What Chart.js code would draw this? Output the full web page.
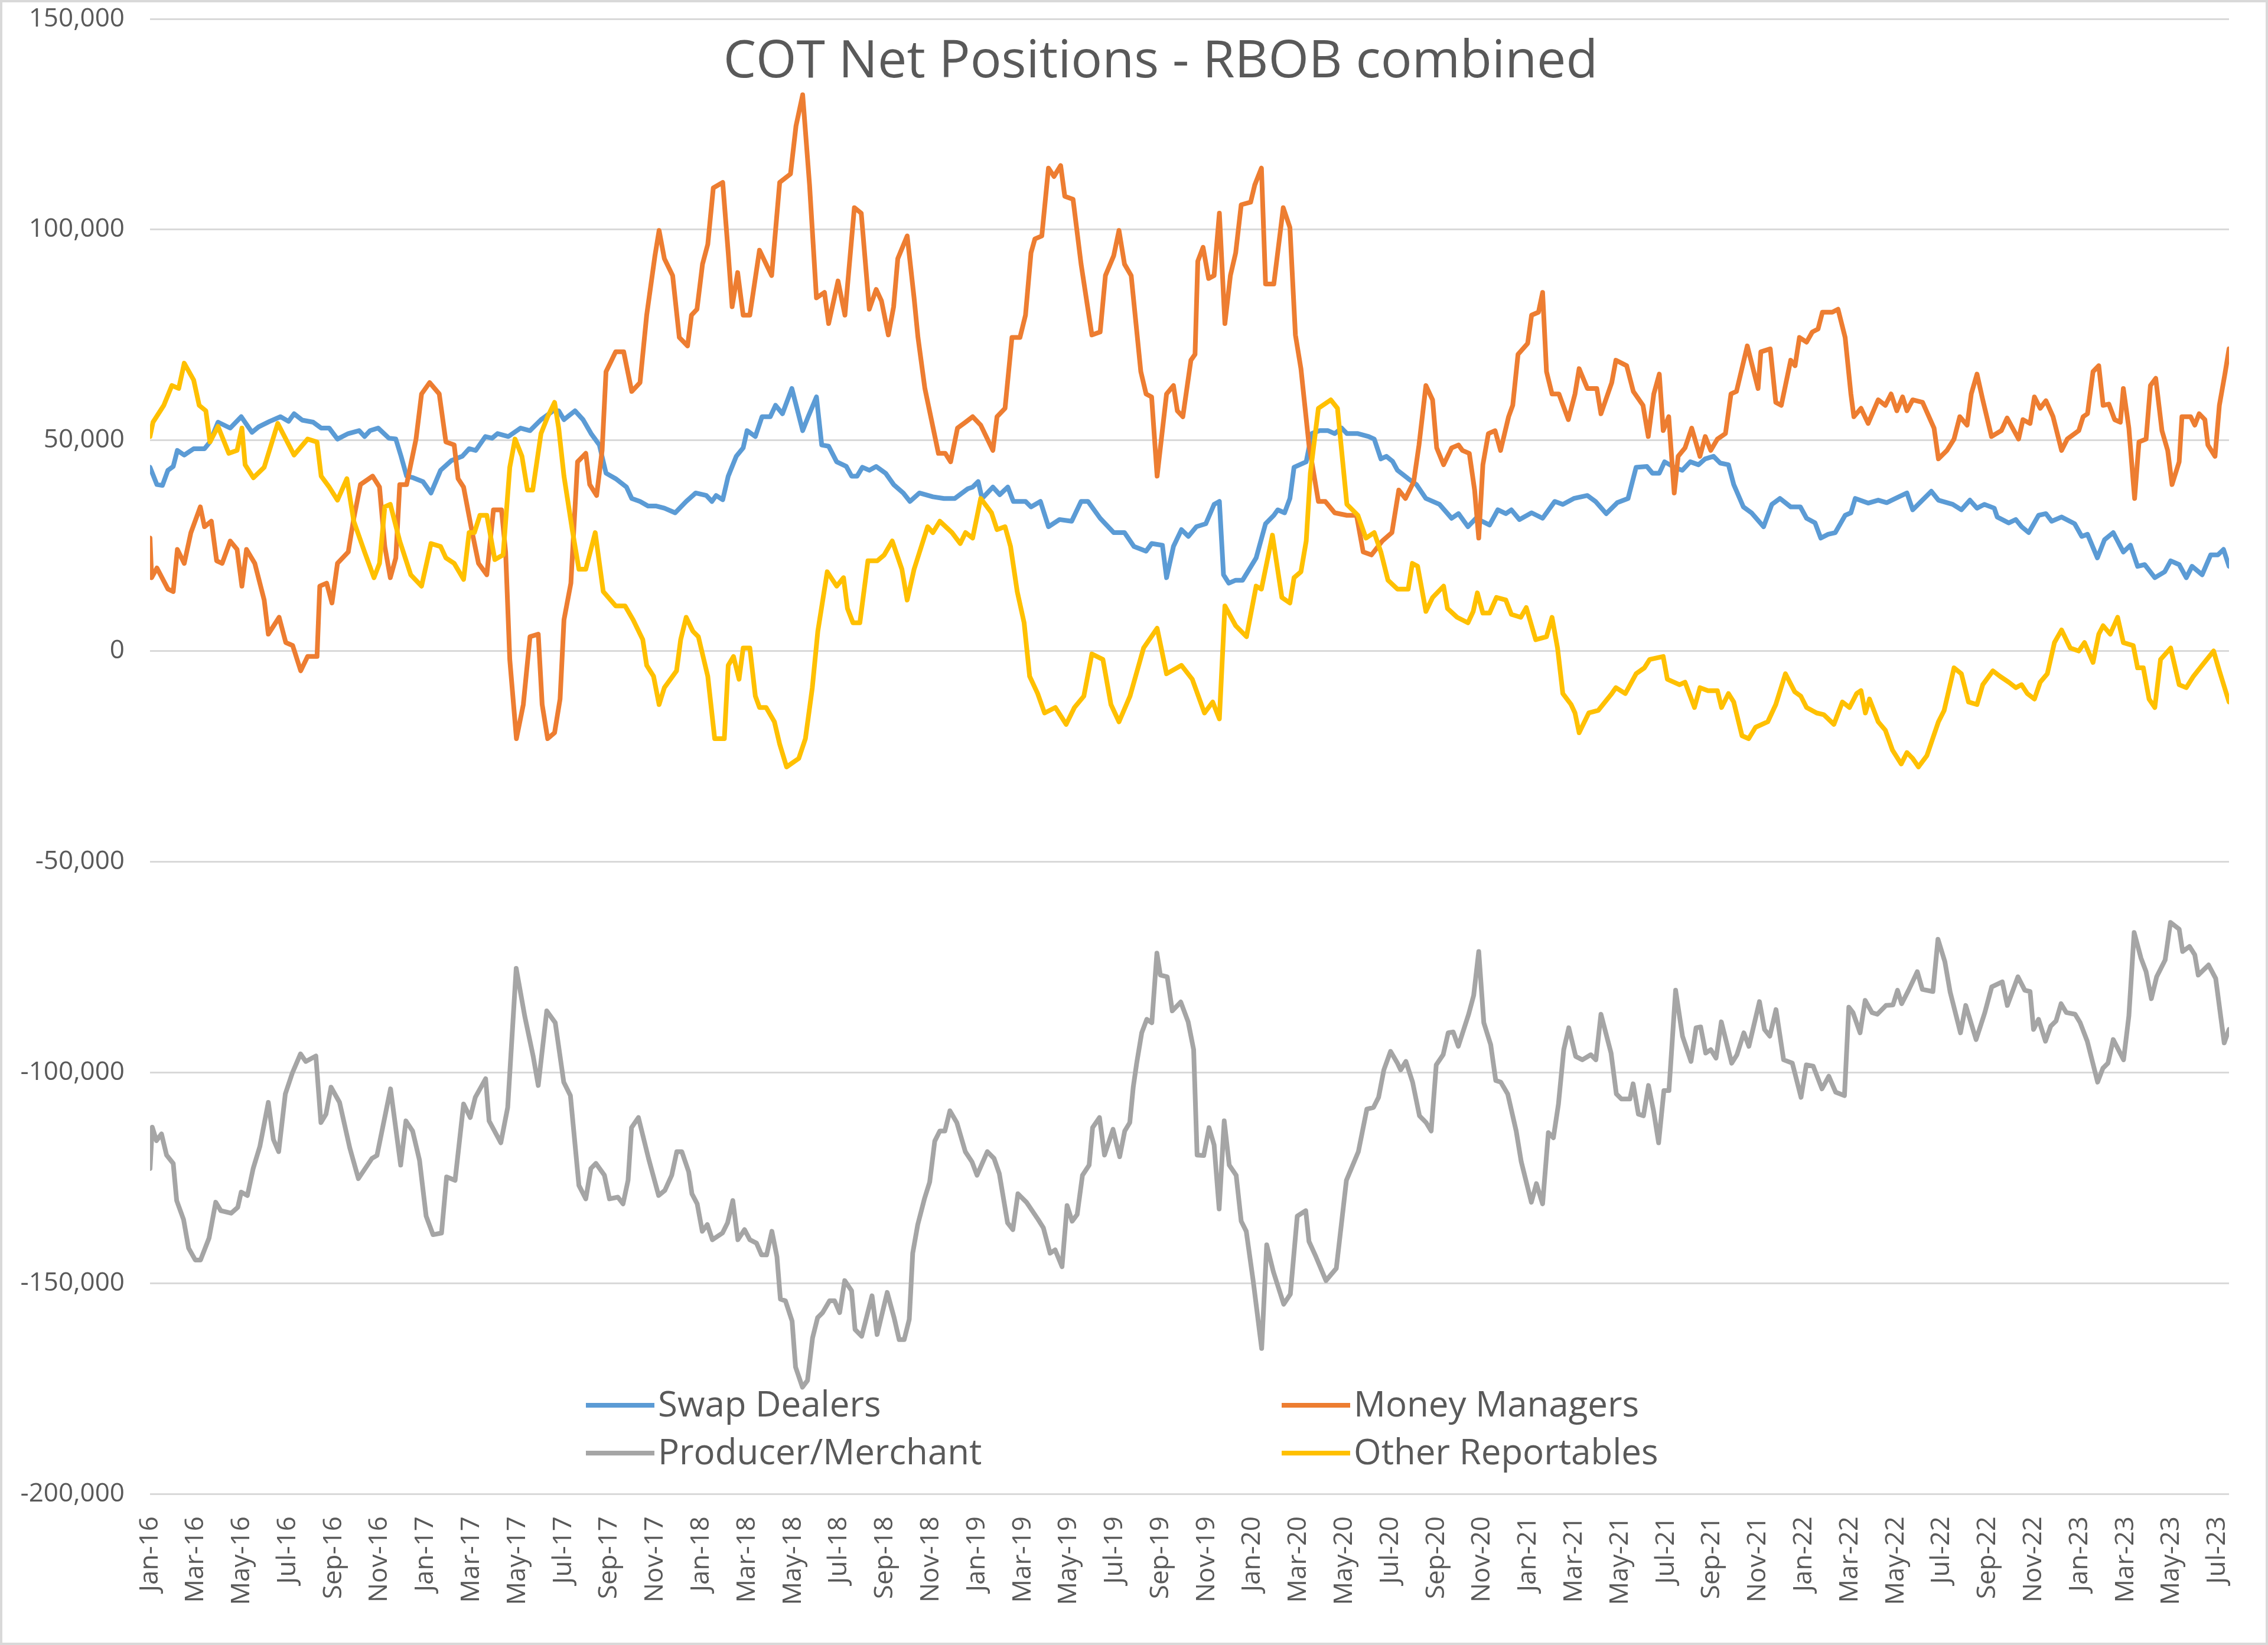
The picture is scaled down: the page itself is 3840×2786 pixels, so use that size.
<!DOCTYPE html>
<html><head><meta charset="utf-8">
<script src="https://cdn.jsdelivr.net/npm/chart.js@4.4.1/dist/chart.umd.min.js"></script>
<style>html,body{margin:0;padding:0;background:#fff;}#wrap{width:3840px;height:2786px;position:relative;}</style>
</head><body><div id="wrap"><canvas id="c" width="3840" height="2786"></canvas></div>
<script>
// x values: months elapsed since the first report (early Jan 2016)
const tickLabels = ['Jan-16','Mar-16','May-16','Jul-16','Sep-16','Nov-16','Jan-17','Mar-17','May-17','Jul-17','Sep-17','Nov-17','Jan-18','Mar-18','May-18','Jul-18','Sep-18','Nov-18','Jan-19','Mar-19','May-19','Jul-19','Sep-19','Nov-19','Jan-20','Mar-20','May-20','Jul-20','Sep-20','Nov-20','Jan-21','Mar-21','May-21','Jul-21','Sep-21','Nov-21','Jan-22','Mar-22','May-22','Jul-22','Sep-22','Nov-22','Jan-23','Mar-23','May-23','Jul-23'];
const seriesNames = ['Swap Dealers','Money Managers','Producer/Merchant','Other Reportables'];
const chartTitle = 'COT Net Positions - RBOB combined';

const swapDealers = [[0,43600],[0.30,39500],[0.54,39300],[0.78,42900],[1.01,43800],[1.19,47600],[1.49,46500],[1.90,48000],[2.37,48000],[2.61,49600],[2.96,54300],[3.49,52900],[3.97,55600],[4.44,51900],[4.73,53200],[5.21,54500],[5.68,55600],[6.03,54500],[6.27,56300],[6.62,54800],[7.10,54300],[7.45,52900],[7.80,52900],[8.16,50300],[8.63,51600],[9.10,52300],[9.34,50900],[9.58,52300],[9.93,52900],[10.40,50500],[10.70,50300],[10.93,46200],[11.17,41500],[11.46,41100],[11.88,40200],[12.23,37500],[12.65,42900],[13.12,45200],[13.59,46200],[13.89,48000],[14.18,47600],[14.60,50900],[14.89,50500],[15.13,51600],[15.60,50900],[16.13,52900],[16.54,52300],[17.02,54900],[17.55,57000],[17.79,57000],[18.02,54900],[18.50,57000],[18.85,54900],[19.20,51600],[19.56,48900],[19.85,42200],[20.27,40900],[20.74,38900],[20.97,36200],[21.33,35500],[21.68,34400],[22.04,34400],[22.39,33900],[22.86,32800],[23.34,35500],[23.75,37500],[24.22,36900],[24.46,35500],[24.64,36900],[24.93,35900],[25.17,41500],[25.52,46200],[25.82,48200],[25.99,52300],[26.35,50900],[26.64,55600],[27.00,55600],[27.23,58300],[27.53,56300],[27.94,62300],[28.41,52300],[28.65,55600],[29.01,60300],[29.24,48900],[29.54,48600],[29.89,44900],[30.31,43800],[30.54,41500],[30.78,41500],[31.01,43600],[31.31,42900],[31.61,43800],[32.02,42200],[32.37,39500],[32.79,37500],[33.08,35500],[33.49,37500],[34.08,36600],[34.56,36200],[35.03,36200],[35.60,38500],[35.81,38900],[36.05,40200],[36.22,36200],[36.69,38900],[36.99,37100],[37.34,38900],[37.58,35500],[38.11,35500],[38.35,34200],[38.76,35500],[39.11,29500],[39.59,31200],[40.12,30800],[40.53,35500],[40.83,35500],[41.36,31500],[41.95,28100],[42.42,28100],[42.83,24800],[43.36,23700],[43.60,25500],[44.07,25100],[44.25,17400],[44.55,24800],[44.90,28800],[45.20,27200],[45.55,29500],[45.96,30200],[46.32,34800],[46.55,35500],[46.73,18100],[46.96,16100],[47.26,16800],[47.56,16800],[47.85,19400],[48.15,22100],[48.56,30200],[48.92,32200],[49.09,33500],[49.39,32800],[49.62,36200],[49.80,43600],[50.33,44900],[50.57,51600],[50.92,52300],[51.28,52300],[51.57,51600],[51.87,52900],[52.10,51600],[52.58,51600],[53.05,50900],[53.29,50300],[53.58,45600],[53.82,46200],[54.09,45000],[54.30,42900],[54.77,40900],[55.13,39500],[55.54,36200],[56.13,34800],[56.66,31500],[56.96,32600],[57.37,29500],[57.72,31500],[58.31,29900],[58.67,33500],[59.02,32600],[59.26,33500],[59.61,31200],[60.14,32800],[60.62,31500],[61.15,35500],[61.50,34800],[61.98,36200],[62.57,36900],[62.92,35500],[63.39,32600],[63.87,35200],[64.34,36200],[64.69,43600],[65.16,43800],[65.40,42200],[65.70,42200],[65.93,44900],[66.35,43600],[66.70,42900],[67.05,44900],[67.41,44200],[67.70,45600],[68.06,46200],[68.35,44600],[68.71,44200],[68.94,39500],[69.36,34200],[69.71,32800],[70.24,29500],[70.60,34800],[70.95,36200],[71.42,34200],[71.84,34200],[72.11,31500],[72.48,30400],[72.73,26800],[73.05,27700],[73.36,28100],[73.79,32200],[74.04,32800],[74.23,36200],[74.79,35100],[75.23,35800],[75.60,35200],[75.98,36200],[76.48,37500],[76.73,33500],[77.10,35500],[77.54,37900],[77.85,35800],[78.47,34800],[78.85,33500],[79.22,35800],[79.53,33900],[79.85,34800],[80.28,33900],[80.41,31800],[80.91,30400],[81.22,31200],[81.47,29500],[81.78,28100],[82.21,32200],[82.53,32600],[82.78,30800],[83.21,31800],[83.78,30200],[84.09,27200],[84.34,27700],[84.77,22100],[85.08,26400],[85.46,28100],[85.90,23500],[86.21,25100],[86.52,20100],[86.83,20500],[87.27,17400],[87.70,18800],[87.96,21400],[88.33,20500],[88.64,17400],[88.89,20100],[89.33,18100],[89.70,22800],[90.01,22800],[90.26,24100],[90.50,20100]];

const moneyManagers = [[0,26800],[0.07,17400],[0.30,19700],[0.78,14700],[1.01,14100],[1.19,24100],[1.49,20800],[1.78,28100],[2.19,34200],[2.37,29500],[2.67,30800],[2.90,21400],[3.14,20800],[3.49,26100],[3.79,24100],[4.00,15400],[4.20,24100],[4.56,20800],[4.97,12100],[5.15,4000],[5.62,8000],[5.91,2000],[6.21,1300],[6.56,-4700],[6.86,-1300],[7.27,-1300],[7.39,15400],[7.69,16100],[7.92,11400],[8.16,20800],[8.63,23500],[8.87,31500],[9.16,39500],[9.69,41500],[9.99,38900],[10.22,24800],[10.46,17400],[10.70,22100],[10.87,39500],[11.17,39500],[11.58,50300],[11.82,61000],[12.17,63700],[12.59,61000],[12.88,49600],[13.24,48900],[13.41,40900],[13.65,38900],[14.00,28800],[14.30,20800],[14.66,18100],[14.95,33500],[15.30,33500],[15.48,23500],[15.66,-2000],[15.95,-20800],[16.25,-12700],[16.54,3400],[16.90,4000],[17.07,-12700],[17.31,-20800],[17.61,-19400],[17.85,-11400],[18.02,7400],[18.32,16100],[18.61,44900],[18.97,46900],[19.14,39500],[19.44,36900],[19.68,47600],[19.85,66300],[20.27,71000],[20.62,71000],[20.97,61600],[21.33,63700],[21.62,79700],[21.98,93800],[22.16,99800],[22.39,93100],[22.75,89100],[23.04,74400],[23.40,72400],[23.57,79700],[23.81,81100],[24.05,91800],[24.28,96500],[24.52,109900],[24.93,111200],[25.17,94500],[25.34,81700],[25.58,89800],[25.82,79700],[26.11,79700],[26.53,95100],[27.06,89100],[27.41,111200],[27.88,113200],[28.12,124600],[28.41,132000],[28.71,110600],[29.01,83800],[29.36,85100],[29.54,77700],[29.95,87800],[30.25,79700],[30.66,105200],[30.96,103900],[31.31,81100],[31.61,85800],[31.84,83100],[32.14,75000],[32.37,81700],[32.55,93100],[32.96,98500],[33.26,83800],[33.43,74400],[33.73,62300],[34.32,46900],[34.62,46900],[34.85,44900],[35.15,52900],[35.50,54300],[35.81,55600],[36.16,53600],[36.69,47600],[36.87,55600],[37.22,57600],[37.52,74400],[37.87,74400],[38.11,79700],[38.35,94500],[38.52,97800],[38.82,98500],[39.11,114600],[39.35,112600],[39.64,115200],[39.82,107900],[40.18,107200],[40.53,91800],[41.00,75000],[41.36,75700],[41.59,89100],[41.95,93800],[42.18,99800],[42.42,91800],[42.71,89100],[43.13,66300],[43.36,61000],[43.60,60300],[43.84,41500],[44.25,61000],[44.55,63000],[44.72,57000],[44.96,55600],[45.31,69000],[45.49,70400],[45.61,92500],[45.84,95800],[46.08,88400],[46.32,89100],[46.55,103900],[46.79,77700],[47.03,89100],[47.26,94500],[47.50,105900],[47.91,106500],[48.09,110600],[48.38,114600],[48.56,87100],[48.92,87100],[49.15,97200],[49.33,105200],[49.62,100500],[49.86,75000],[50.10,67000],[50.45,48900],[50.86,35500],[51.16,35500],[51.57,32800],[52.10,32200],[52.52,32200],[52.81,23500],[53.17,22800],[53.64,26100],[54.06,28100],[54.36,38200],[54.65,36200],[55.01,40200],[55.24,48900],[55.54,63000],[55.83,59600],[56.01,48200],[56.31,44200],[56.66,48200],[56.96,48900],[57.13,47600],[57.43,46900],[57.66,38200],[57.84,26800],[58.02,44200],[58.26,51600],[58.55,52300],[58.79,47600],[59.14,55600],[59.32,58300],[59.55,70400],[59.97,73000],[60.14,79700],[60.44,80400],[60.62,85100],[60.79,66300],[61.03,61000],[61.33,61000],[61.74,54900],[62.03,61000],[62.21,67000],[62.57,62300],[62.98,62300],[63.16,56300],[63.63,63700],[63.81,69000],[64.28,67700],[64.57,61600],[64.99,58300],[65.22,50900],[65.46,61000],[65.70,65700],[65.87,52300],[66.11,55600],[66.35,37500],[66.52,46200],[66.82,48200],[67.11,52900],[67.47,46200],[67.70,50900],[67.94,47600],[68.23,50300],[68.58,51600],[68.82,61000],[69.06,61600],[69.53,72400],[70.00,62300],[70.12,71000],[70.53,71700],[70.77,59000],[71.01,58300],[71.42,69000],[71.61,67700],[71.80,74400],[72.11,73300],[72.36,75700],[72.61,76400],[72.80,80400],[73.23,80400],[73.48,81100],[73.79,74400],[74.04,61000],[74.17,55600],[74.48,57600],[74.79,54000],[75.23,59600],[75.54,58300],[75.79,61000],[76.04,57000],[76.29,60300],[76.48,57000],[76.73,59600],[77.16,59000],[77.66,52900],[77.85,45600],[78.22,47600],[78.53,50300],[78.78,55600],[79.10,53600],[79.28,61000],[79.53,65700],[79.78,59600],[80.16,50900],[80.59,52300],[80.84,55300],[81.34,50300],[81.53,54900],[81.84,54000],[82.03,60300],[82.28,57600],[82.53,59400],[82.84,55600],[83.21,47600],[83.46,50300],[83.96,52300],[84.15,55600],[84.34,56300],[84.58,66300],[84.83,67700],[85.02,58300],[85.27,58600],[85.52,54900],[85.77,54300],[85.90,62300],[86.14,52900],[86.39,36200],[86.58,49600],[86.89,50300],[87.08,63000],[87.31,64700],[87.58,52300],[87.83,47600],[88.02,39500],[88.33,44900],[88.45,55600],[88.83,55600],[89.01,53600],[89.20,56300],[89.45,54900],[89.58,48900],[89.89,46200],[90.08,58300],[90.32,65700],[90.50,71700]];

const producerMerchant = [[0,-122800],[0.10,-113000],[0.28,-116200],[0.50,-114600],[0.72,-119600],[1.01,-121600],[1.16,-130400],[1.46,-134900],[1.68,-141700],[1.97,-144500],[2.20,-144500],[2.57,-139300],[2.86,-130800],[3.08,-132800],[3.53,-133400],[3.82,-132000],[3.97,-128400],[4.24,-129200],[4.49,-122800],[4.78,-117600],[5.15,-107100],[5.37,-115900],[5.60,-118800],[5.89,-105100],[6.19,-100200],[6.55,-95600],[6.78,-97400],[7.22,-96100],[7.44,-111900],[7.66,-109900],[7.88,-103500],[8.25,-107100],[8.70,-118000],[9.07,-125200],[9.66,-120400],[9.88,-119700],[10.47,-103900],[10.91,-122000],[11.14,-111500],[11.43,-113900],[11.73,-120800],[12.02,-134100],[12.32,-138500],[12.69,-138100],[12.91,-124800],[13.28,-125600],[13.65,-107500],[13.94,-110700],[14.16,-105900],[14.61,-101500],[14.76,-111500],[15.27,-116700],[15.57,-108300],[15.94,-75300],[16.31,-86600],[16.68,-96200],[16.90,-103100],[17.27,-85400],[17.64,-88200],[18.01,-102300],[18.30,-105500],[18.67,-126800],[18.97,-130000],[19.19,-122800],[19.41,-121600],[19.78,-124400],[20.00,-130000],[20.37,-129600],[20.59,-131200],[20.81,-125600],[20.96,-113100],[21.26,-110700],[21.70,-120400],[22.14,-129200],[22.41,-128000],[22.71,-124400],[22.93,-118800],[23.15,-118800],[23.45,-123600],[23.59,-128800],[23.82,-131200],[24.04,-137700],[24.26,-136100],[24.48,-139700],[24.92,-138100],[25.14,-135700],[25.37,-130400],[25.59,-139700],[25.88,-137300],[26.11,-139700],[26.40,-140500],[26.62,-143300],[26.84,-143300],[27.07,-137700],[27.29,-143700],[27.44,-153800],[27.66,-154200],[27.95,-159000],[28.10,-169900],[28.40,-174700],[28.62,-173100],[28.84,-163000],[29.06,-158200],[29.28,-157000],[29.58,-154200],[29.80,-154200],[30.02,-157000],[30.24,-149400],[30.54,-151800],[30.69,-161000],[30.98,-162600],[31.43,-153000],[31.65,-162200],[32.09,-152200],[32.39,-158200],[32.61,-163400],[32.83,-163400],[33.05,-158600],[33.20,-142900],[33.42,-136100],[33.71,-130000],[33.94,-126000],[34.16,-116300],[34.38,-113900],[34.60,-113900],[34.82,-109100],[35.12,-111900],[35.49,-118800],[35.78,-121200],[36.00,-124400],[36.45,-118800],[36.74,-120400],[36.97,-124000],[37.33,-135700],[37.56,-137300],[37.78,-128800],[38.15,-130800],[38.66,-134900],[38.89,-136900],[39.18,-142900],[39.40,-142100],[39.70,-146100],[39.92,-131600],[40.14,-135300],[40.36,-133700],[40.59,-124400],[40.88,-122000],[41.03,-113100],[41.33,-110700],[41.55,-119600],[41.92,-113500],[42.21,-120000],[42.43,-113900],[42.65,-111900],[42.80,-103500],[42.95,-97800],[43.17,-90600],[43.39,-87400],[43.61,-88200],[43.83,-71700],[43.98,-76900],[44.28,-77300],[44.50,-85400],[44.87,-83300],[45.19,-88000],[45.43,-94600],[45.58,-119600],[45.87,-119700],[46.10,-113100],[46.32,-117200],[46.54,-132400],[46.76,-111500],[46.98,-122000],[47.28,-124400],[47.50,-135300],[47.72,-137700],[48.02,-149400],[48.39,-165500],[48.61,-140900],[48.90,-147300],[49.35,-155000],[49.64,-152600],[49.94,-134100],[50.31,-132800],[50.45,-140100],[50.75,-143700],[51.19,-149400],[51.64,-146500],[52.08,-125600],[52.60,-118800],[52.97,-108700],[53.26,-108300],[53.48,-105900],[53.71,-99400],[54.00,-95000],[54.30,-97800],[54.44,-99400],[54.67,-97400],[54.96,-102300],[55.26,-110300],[55.55,-111900],[55.77,-113900],[55.99,-98200],[56.29,-95800],[56.51,-90600],[56.73,-90400],[56.95,-93800],[57.40,-86200],[57.62,-81700],[57.84,-71300],[58.06,-88200],[58.36,-93400],[58.58,-101900],[58.80,-102300],[59.10,-105100],[59.47,-113900],[59.69,-121200],[60.13,-130800],[60.35,-126400],[60.62,-131200],[60.87,-114300],[61.09,-115500],[61.31,-107500],[61.54,-94600],[61.76,-89400],[62.06,-96200],[62.35,-97000],[62.72,-95800],[62.94,-97000],[63.16,-86200],[63.60,-95400],[63.83,-105100],[64.05,-106300],[64.42,-106300],[64.56,-102700],[64.79,-109900],[65.01,-110300],[65.23,-103100],[65.45,-109100],[65.67,-116700],[65.90,-104300],[66.12,-104300],[66.41,-80500],[66.71,-91400],[67.08,-97400],[67.30,-89400],[67.50,-89200],[67.72,-95400],[67.94,-94600],[68.17,-96600],[68.40,-88000],[68.85,-97800],[69.08,-95800],[69.38,-90600],[69.60,-93800],[70.06,-83200],[70.28,-89800],[70.51,-91400],[70.78,-85100],[71.11,-97000],[71.49,-97800],[71.87,-105900],[72.10,-98200],[72.40,-98500],[72.78,-103900],[73.08,-100900],[73.38,-104700],[73.76,-105500],[73.95,-84500],[74.13,-85800],[74.44,-90600],[74.66,-82900],[74.96,-85800],[75.19,-86200],[75.57,-84100],[75.87,-84000],[76.07,-80500],[76.25,-83700],[76.55,-80500],[76.93,-76100],[77.15,-80300],[77.61,-80800],[77.83,-68400],[78.13,-73700],[78.36,-80900],[78.81,-90600],[79.04,-84100],[79.49,-92200],[79.87,-85800],[80.17,-79700],[80.63,-78500],[80.85,-84100],[81.31,-77300],[81.61,-80500],[81.84,-80800],[81.99,-89800],[82.21,-87400],[82.51,-92600],[82.74,-89000],[82.97,-87800],[83.19,-83700],[83.42,-85800],[83.80,-86200],[84.02,-88200],[84.33,-92600],[84.78,-102300],[85.01,-99000],[85.23,-97800],[85.46,-92200],[85.91,-97000],[86.14,-86600],[86.37,-66800],[86.67,-72900],[86.89,-76100],[87.12,-82500],[87.35,-77300],[87.72,-73300],[87.95,-64400],[88.33,-66000],[88.48,-71300],[88.78,-70100],[89.01,-72100],[89.16,-76900],[89.61,-74500],[89.92,-77700],[90.29,-93000],[90.50,-89800]];

const otherReportables = [[0,50900],[0.13,54300],[0.60,58300],[0.95,63000],[1.25,62300],[1.49,68300],[1.90,64300],[2.14,58300],[2.43,57000],[2.61,49600],[2.96,53300],[3.43,46900],[3.79,47600],[4.00,52900],[4.14,44200],[4.50,41100],[4.97,43600],[5.56,54000],[6.27,46500],[6.86,50300],[7.27,49600],[7.45,41500],[7.80,38900],[8.16,35800],[8.57,40900],[8.87,30800],[9.34,23500],[9.75,17400],[9.99,20800],[10.22,34200],[10.46,34800],[10.87,26100],[11.35,18100],[11.82,15400],[12.23,25500],[12.65,24800],[12.88,22100],[13.24,20800],[13.65,17000],[13.89,28100],[14.12,28100],[14.36,32200],[14.66,32200],[15.01,21700],[15.37,22800],[15.66,43600],[15.89,50300],[16.19,46200],[16.43,38200],[16.66,38200],[17.02,51600],[17.31,55600],[17.61,59000],[17.79,52900],[18.02,41500],[18.38,28800],[18.67,19400],[18.97,19400],[19.38,28100],[19.73,14100],[20.27,10700],[20.68,10700],[21.03,7400],[21.45,2700],[21.62,-3400],[21.92,-6000],[22.16,-12700],[22.39,-8700],[22.92,-4700],[23.10,2700],[23.34,8000],[23.63,4700],[23.87,3400],[24.28,-6000],[24.58,-20800],[25.00,-20800],[25.17,-3400],[25.40,-1300],[25.64,-6700],[25.82,700],[26.11,700],[26.35,-10700],[26.53,-13400],[26.82,-13400],[27.18,-16800],[27.41,-22100],[27.71,-27500],[28.24,-25500],[28.53,-20800],[28.83,-8700],[29.07,4700],[29.48,18800],[29.89,15400],[30.19,17400],[30.36,10100],[30.60,6700],[30.90,6700],[31.25,21400],[31.66,21400],[31.96,22800],[32.31,26100],[32.73,19400],[32.96,12100],[33.26,19400],[33.85,29500],[34.08,28100],[34.38,30800],[34.91,28100],[35.27,25500],[35.50,28100],[35.81,26800],[36.16,36200],[36.63,32800],[36.87,28800],[37.22,29500],[37.46,24800],[37.75,14100],[38.05,6700],[38.29,-6000],[38.64,-10100],[38.94,-14700],[39.41,-13400],[39.88,-17400],[40.24,-13400],[40.65,-10700],[41.00,-700],[41.48,-2000],[41.83,-12700],[42.18,-16800],[42.66,-10700],[43.25,700],[43.84,5400],[44.25,-5400],[44.90,-3400],[45.37,-6700],[45.90,-14700],[46.26,-12100],[46.55,-16100],[46.79,10700],[47.26,6000],[47.73,3400],[48.15,15400],[48.38,14700],[48.86,27500],[49.27,12700],[49.62,11400],[49.80,17400],[50.10,18800],[50.33,26100],[50.51,42200],[50.86,57600],[51.40,59600],[51.69,57600],[52.10,34800],[52.58,32200],[52.93,26800],[53.29,28100],[53.58,23500],[53.89,16800],[54.30,14700],[54.77,14700],[54.95,20800],[55.18,20100],[55.54,9400],[55.83,12700],[56.31,15400],[56.48,10100],[56.90,8000],[57.37,6700],[57.60,9400],[57.78,13800],[58.02,9000],[58.31,9000],[58.61,12700],[59.02,12100],[59.26,8700],[59.67,8000],[59.91,10300],[60.32,2700],[60.79,3400],[61.03,8000],[61.27,700],[61.50,-10100],[61.86,-12700],[62.03,-14700],[62.21,-19400],[62.63,-14700],[63.04,-14100],[63.63,-10100],[63.81,-8700],[64.22,-10100],[64.69,-5400],[65.05,-4000],[65.28,-2000],[65.87,-1300],[66.05,-6700],[66.58,-8000],[66.82,-7400],[67.23,-13400],[67.47,-8700],[67.82,-9400],[68.23,-9400],[68.41,-13400],[68.71,-10100],[68.94,-12100],[69.30,-20100],[69.59,-20800],[69.89,-18100],[70.42,-16800],[70.77,-12700],[71.19,-5400],[71.60,-9700],[71.86,-10700],[72.11,-13400],[72.55,-14700],[72.86,-15100],[73.30,-17400],[73.67,-12100],[73.98,-13400],[74.29,-10100],[74.48,-9400],[74.67,-14700],[74.85,-11400],[75.23,-16800],[75.54,-18800],[75.85,-23500],[76.23,-26800],[76.48,-24100],[76.73,-25500],[76.98,-27500],[77.35,-24800],[77.85,-16800],[78.10,-14100],[78.53,-4000],[78.85,-5400],[79.16,-12100],[79.53,-12700],[79.78,-8000],[80.22,-4700],[80.53,-6000],[80.91,-7400],[81.22,-8700],[81.47,-8000],[81.72,-10100],[82.03,-11400],[82.28,-7400],[82.59,-5400],[82.90,2000],[83.21,5000],[83.59,700],[83.96,0],[84.21,2000],[84.58,-2700],[84.83,4000],[85.02,6000],[85.33,4000],[85.65,8000],[85.90,2000],[86.33,1300],[86.52,-4000],[86.77,-4000],[87.02,-11400],[87.27,-13400],[87.52,-2000],[87.96,700],[88.33,-8000],[88.64,-8700],[88.95,-6000],[89.33,-3400],[89.83,0],[90.08,-4700],[90.50,-12100]];

const FONT = "'Open Sans', 'Noto Sans', sans-serif";
const TEXT = '#595959';
const colors = ['#5B9BD5', '#ED7D31', '#A5A5A5', '#FFC000'];
const toPts = arr => arr.map(([x, y]) => ({ x, y }));

const overlay = {
  id: 'overlay',
  beforeDraw(chart) {
    const c = chart.ctx;
    c.save(); c.fillStyle = '#fff'; c.fillRect(0, 0, chart.width, chart.height); c.restore();
  },
  afterDraw(chart) {
    const c = chart.ctx;
    c.save();
    c.strokeStyle = '#d9d9d9'; c.lineWidth = 4;
    c.strokeRect(2, 2, chart.width - 4, chart.height - 4);
    c.fillStyle = TEXT;
    c.font = '88px ' + FONT;
    c.textAlign = 'center'; c.textBaseline = 'alphabetic';
    c.fillText(chartTitle, 1965, 131);
    const cols = [992, 2170], rows = [2380, 2461];
    seriesNames.forEach((name, i) => {
      const x = cols[i % 2], y = rows[Math.floor(i / 2)];
      c.strokeStyle = colors[i]; c.lineWidth = 8; c.lineCap = 'butt';
      c.beginPath(); c.moveTo(x, y); c.lineTo(x + 116, y); c.stroke();
      c.fillStyle = TEXT; c.font = '60px ' + FONT;
      c.textAlign = 'left'; c.textBaseline = 'middle';
      c.fillText(name, x + 122, y + 2);
    });
    c.restore();
  }
};

function draw() {
  const series = [swapDealers, moneyManagers, producerMerchant, otherReportables];
  const drawOrder = [3, 2, 1, 0];
  new Chart(document.getElementById('c'), {
    type: 'line',
    data: {
      datasets: series.map((s, i) => ({
        label: seriesNames[i],
        data: toPts(s),
        borderColor: colors[i],
        backgroundColor: colors[i],
        borderWidth: 8,
        pointRadius: 0,
        tension: 0,
        fill: false,
        borderJoinStyle: 'round',
        borderCapStyle: 'round',
        order: drawOrder[i]
      }))
    },
    options: {
      responsive: false,
      animation: false,
      devicePixelRatio: 1,
      layout: { padding: { left: 0, right: 66, top: 32, bottom: 0 } },
      plugins: { legend: { display: false }, title: { display: false }, tooltip: { enabled: false } },
      scales: {
        x: {
          type: 'linear', min: 0, max: 90.5,
          grid: { display: false }, border: { display: false },
          afterBuildTicks: sc => { sc.ticks = tickLabels.map((_, i) => ({ value: i * 2 })); },
          afterFit: sc => { sc.height = 256; sc.paddingLeft = 0; sc.paddingRight = 0; },
          ticks: {
            autoSkip: false, minRotation: 90, maxRotation: 90, padding: 30,
            color: TEXT, font: { family: FONT, size: 44 },
            callback: v => tickLabels[Math.round(v / 2)]
          }
        },
        y: {
          min: -200000, max: 150000,
          grid: { color: '#d9d9d9', lineWidth: 3, drawTicks: false },
          border: { display: false },
          afterFit: sc => { sc.width = 254; sc.paddingTop = 0; sc.paddingBottom = 0; },
          ticks: {
            stepSize: 50000, padding: 43, color: TEXT,
            font: { family: FONT, size: 44 },
            callback: v => v.toLocaleString('en-US')
          }
        }
      }
    },
    plugins: [overlay]
  });
}
if (document.fonts && document.fonts.load) {
  Promise.all([document.fonts.load("44px 'Open Sans'"), document.fonts.load("88px 'Open Sans'")]).then(draw, draw);
} else { draw(); }
</script>
</body></html>
